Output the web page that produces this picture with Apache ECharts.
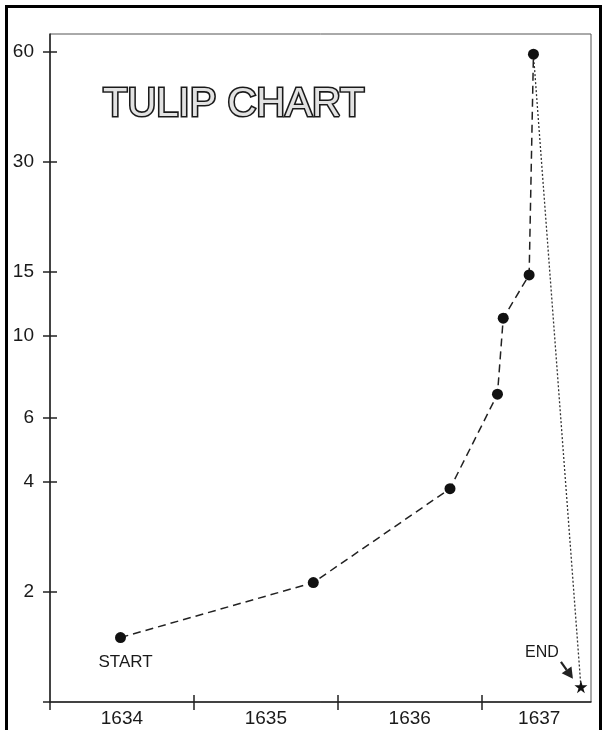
<!DOCTYPE html>
<html>
<head>
<meta charset="utf-8">
<script src="https://cdn.jsdelivr.net/npm/echarts@6/dist/echarts.min.js"></script>
<style>
html, body { margin: 0; padding: 0; background: #fff; }
#chart { width: 604px; height: 730px; }
</style>
</head>
<body>
<div id="chart"></div>
<script>
// 上涨段（年份 / 价格）
var years = [1634.49, 1635.83, 1636.78, 1637.11, 1637.15, 1637.33, 1637.36];
var prices = [1.5, 2.12, 3.83, 6.94, 11.2, 14.7, 59];
// 崩盘段
var crashYears = [1637.36, 1637.69];
var crashPrices = [59, 1.1];
// 刻度
var yTicks = [2, 4, 6, 10, 15, 30, 60];
var xTicks = [1635, 1636, 1637];
var xLabelPos = [1634.5, 1635.5, 1636.5, 1637.4];

(function () {
	let myChart = echarts.init(document.getElementById('chart'))
	let font = 'Liberation Sans, Arial, sans-serif'
	let xMin = 1634, xMax = 1637.76
	let yMin = 1, yMax = 67

	let riseData = years.map(function (x, i) {
		if (i === 0) {
			return {
				value: [x, prices[i]],
				label: {
					show: true,
					formatter: 'START',
					position: 'inside',
					offset: [5, 25],
					color: '#1a1a1a',
					fontSize: 17,
					fontFamily: font
				}
			}
		}
		return [x, prices[i]]
	})
	let crashData = crashYears.map(function (x, i) {
		return [x, crashPrices[i]]
	})

	let option = {
		animation: false,
		backgroundColor: '#fff',
		title: {
			text: 'TULIP CHART',
			left: 98,
			top: 80,
			textStyle: {
				fontFamily: font,
				fontSize: 40,
				fontWeight: 'normal',
				color: '#e2e2e2',
				textBorderColor: '#1a1a1a',
				textBorderWidth: 3.2
			}
		},
		grid: {
			left: 50,
			top: 34,
			right: 13,
			bottom: 28,
			show: true,
			borderColor: '#555',
			borderWidth: 1
		},
		xAxis: [{
			type: 'value',
			min: xMin,
			max: xMax,
			position: 'bottom',
			splitLine: { show: false },
			axisLine: { lineStyle: { color: '#222', width: 1.5 } },
			axisTick: {
				customValues: [xMin].concat(xTicks),
				length: 8,
				lineStyle: { color: '#222', width: 1.5 }
			},
			axisLabel: {
				customValues: xLabelPos,
				formatter: function (v) { return Math.floor(v) },
				color: '#1a1a1a',
				fontSize: 19,
				fontFamily: font,
				margin: 7
			}
		}, {
			// 向内的刻度
			type: 'value',
			min: xMin,
			max: xMax,
			position: 'bottom',
			splitLine: { show: false },
			axisLine: { show: false },
			axisTick: {
				inside: true,
				customValues: xTicks,
				length: 7,
				lineStyle: { color: '#222', width: 1.5 }
			},
			axisLabel: { show: false }
		}],
		yAxis: [{
			type: 'log',
			min: yMin,
			max: yMax,
			position: 'left',
			splitLine: { show: false },
			axisLine: { show: true, lineStyle: { color: '#222', width: 1.5 } },
			axisTick: {
				show: true,
				customValues: [yMin].concat(yTicks),
				length: 7,
				lineStyle: { color: '#222', width: 1.5 }
			},
			axisLabel: {
				customValues: yTicks,
				color: '#1a1a1a',
				fontSize: 19,
				fontFamily: font,
				margin: 16
			}
		}, {
			type: 'log',
			min: yMin,
			max: yMax,
			position: 'left',
			splitLine: { show: false },
			axisLine: { show: false },
			axisTick: {
				show: true,
				inside: true,
				customValues: yTicks,
				length: 7,
				lineStyle: { color: '#222', width: 1.5 }
			},
			axisLabel: { show: false }
		}],
		series: [{
			name: 'rise',
			type: 'line',
			xAxisIndex: 0,
			yAxisIndex: 0,
			data: riseData,
			symbol: 'circle',
			symbolSize: 11,
			itemStyle: { color: '#111' },
			lineStyle: { color: '#222', width: 1.5, type: [8, 5] },
			z: 3
		}, {
			name: 'crash',
			type: 'line',
			xAxisIndex: 0,
			yAxisIndex: 0,
			data: crashData,
			symbol: function (v, p) { return p.dataIndex === 1 ? 'path://M50,0 L61,35 L98,35 L68,57 L79,91 L50,70 L21,91 L32,57 L2,35 L39,35 Z' : 'none' },
			symbolSize: 13,
			itemStyle: { color: '#111' },
			lineStyle: { color: '#333', width: 1.3, type: [2, 2] },
			label: {
				show: true,
				formatter: function (p) { return p.dataIndex === 1 ? 'END' : '' },
				position: 'inside',
				offset: [-39, -34],
				color: '#1a1a1a',
				fontSize: 16,
				fontFamily: font
			},
			z: 2
		}],
		graphic: [{
			// 外框
			type: 'polyline',
			shape: { points: [[6.5, 740], [6.5, 6.5], [600.5, 6.5], [600.5, 740]] },
			style: { stroke: '#000', lineWidth: 3, fill: null },
			silent: true
		}]
	}
	myChart.setOption(option)

	// END 箭头，指向星号
	let end = myChart.convertToPixel({ xAxisIndex: 0, yAxisIndex: 0 }, crashData[1])
	let tail = [end[0] - 20, end[1] - 25]
	let tip = [end[0] - 8, end[1] - 8]
	let ang = Math.atan2(tip[1] - tail[1], tip[0] - tail[0])
	let hl = 11, hw = 6
	let bx = tip[0] - hl * Math.cos(ang), by = tip[1] - hl * Math.sin(ang)
	let px = -Math.sin(ang) * hw, py = Math.cos(ang) * hw
	myChart.setOption({
		graphic: [option.graphic[0], {
			type: 'line',
			shape: { x1: tail[0], y1: tail[1], x2: bx, y2: by },
			style: { stroke: '#222', lineWidth: 2.2 },
			silent: true
		}, {
			type: 'polygon',
			shape: { points: [tip, [bx + px, by + py], [bx - px, by - py]] },
			style: { fill: '#222' },
			silent: true
		}]
	})
})()
</script>
</body>
</html>
